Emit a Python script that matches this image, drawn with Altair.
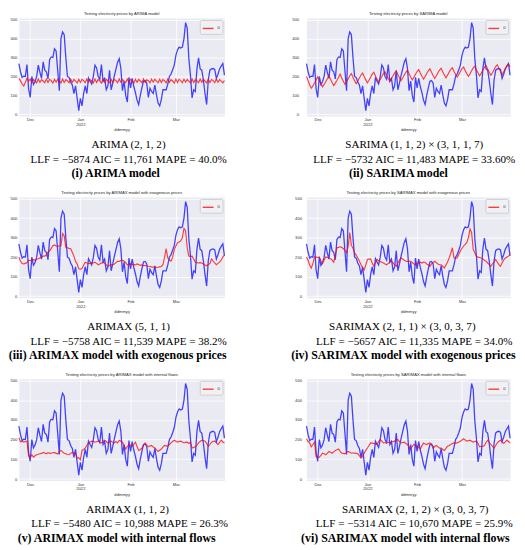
import altair as alt
import pandas as pd

START_DATE = "2021-11-24"
LEGEND_LABEL = "0"

# Actual daily electricity price (blue), Nov 24 2021 - Mar 31 2022
actual = [
    268, 225, 195, 202, 200, 263, 135,
    90, 200, 158, 172, 200, 260, 222,
    190, 277, 233, 225, 187, 290, 303,
    300, 346, 335, 230, 125, 400, 435,
    420, 300, 200, 195, 170, 155, 110,
    150, 85, 20, 85, 45, 110, 150,
    110, 192, 175, 160, 200, 260, 245,
    200, 185, 263, 175, 190, 130, 150,
    233, 130, 165, 205, 240, 275, 294,
    242, 125, 175, 100, 65, 195, 140,
    190, 147, 115, 75, 52, 100, 140,
    175, 178, 165, 90, 138, 121, 110,
    155, 104, 60, 45, 78, 130, 130,
    130, 160, 200, 213, 235, 260, 311,
    340, 355, 350, 355, 400, 484, 455,
    294, 207, 87, 130, 121, 240, 298,
    240, 233, 180, 110, 52, 180, 233,
    240, 242, 237, 190, 212, 240, 255,
    268, 207,
]

pred_arima = [
    190, 178, 160, 150, 168, 190, 176,
    186, 168, 184, 177, 166, 187, 169,
    183, 176, 167, 186, 168, 185, 178,
    165, 185, 170, 184, 176, 166, 187,
    168, 183, 177, 167, 186, 169, 184,
    175, 166, 185, 168, 185, 178, 167,
    186, 170, 183, 176, 166, 187, 168,
    184, 177, 165, 186, 169, 185, 176,
    167, 185, 168, 184, 178, 166, 187,
    170, 183, 175, 167, 186, 168, 185,
    177, 165, 185, 169, 184, 176, 167,
    187, 168, 183, 178, 166, 186, 170,
    185, 175, 167, 185, 168, 184, 177,
    166, 187, 169, 183, 176, 165, 186,
    168, 185, 178, 167, 185, 170, 184,
    175, 166, 187, 168, 183, 177, 167,
    186, 169, 185, 176, 166, 185, 168,
    184, 178, 167, 186, 170, 183, 175,
    166, 178,
]

pred_sarima = [
    200, 178, 155, 138, 150, 165, 182,
    198, 178, 160, 145, 158, 172, 188,
    205, 185, 168, 152, 165, 180, 196,
    212, 192, 175, 158, 172, 188, 204,
    215, 196, 178, 162, 176, 192, 208,
    218, 200, 182, 166, 180, 196, 212,
    222, 204, 186, 170, 184, 200, 215,
    225, 207, 190, 174, 188, 204, 219,
    228, 210, 193, 178, 192, 208, 222,
    232, 214, 197, 182, 196, 212, 226,
    236, 218, 201, 186, 200, 216, 230,
    240, 222, 205, 190, 204, 220, 234,
    243, 225, 208, 193, 207, 223, 238,
    246, 228, 211, 196, 210, 226, 241,
    250, 232, 215, 200, 214, 230, 245,
    254, 236, 218, 203, 217, 233, 248,
    258, 240, 222, 206, 220, 236, 252,
    262, 244, 226, 210, 224, 240, 256,
    266, 250,
]

pred_arimax_exo = [
    200, 180, 167, 165, 168, 172, 184,
    183, 186, 187, 184, 190, 192, 196,
    198, 205, 205, 212, 225, 232, 245,
    258, 262, 257, 255, 258, 258, 321,
    309, 250, 248, 245, 243, 225, 205,
    178, 165, 140, 139, 142, 158, 174,
    170, 168, 167, 172, 170, 174, 168,
    161, 165, 170, 174, 168, 160, 153,
    158, 162, 161, 165, 172, 179, 178,
    182, 184, 180, 172, 161, 163, 165,
    161, 163, 160, 165, 162, 158, 160,
    156, 158, 155, 153, 152, 150, 149,
    150, 147, 148, 150, 152, 161, 200,
    243, 196, 185, 179, 200, 240, 257,
    274, 278, 283, 300, 347, 335, 248,
    205, 203, 205, 190, 174, 172, 170,
    172, 170, 165, 160, 156, 162, 167,
    191, 180, 170, 161, 168, 174, 185,
    200, 210,
]

pred_sarimax_exo = [
    201, 184, 160, 144, 167, 201, 200,
    198, 201, 180, 167, 185, 201, 199,
    196, 192, 185, 174, 210, 248, 250,
    253, 250, 243, 235, 222, 255, 326,
    260, 245, 222, 210, 196, 180, 161,
    145, 135, 160, 188, 190, 191, 170,
    153, 170, 188, 182, 178, 174, 170,
    165, 161, 168, 175, 179, 170, 160,
    153, 170, 185, 196, 190, 184, 179,
    178, 180, 179, 172, 165, 161, 168,
    172, 174, 170, 175, 174, 165, 160,
    153, 165, 172, 179, 172, 165, 161,
    161, 152, 144, 160, 175, 196, 220,
    248, 196, 195, 196, 215, 231, 245,
    257, 265, 274, 300, 344, 326, 240,
    222, 205, 200, 198, 196, 190, 184,
    179, 170, 162, 153, 165, 175, 188,
    175, 162, 153, 170, 185, 196, 200,
    205, 214,
]

pred_arimax_flow = [
    209, 189, 192, 187, 190, 192, 118,
    109, 123, 111, 118, 123, 126, 128,
    130, 135, 132, 128, 134, 130, 131,
    133, 135, 130, 128, 138, 145, 138,
    131, 128, 124, 123, 130, 135, 133,
    131, 106, 108, 97, 145, 150, 157,
    170, 183, 188, 192, 190, 187, 189,
    192, 186, 183, 190, 197, 190, 183,
    188, 192, 186, 183, 190, 183, 197,
    192, 187, 170, 152, 165, 175, 170,
    166, 175, 187, 165, 145, 150, 157,
    170, 183, 172, 163, 168, 170, 162,
    157, 148, 140, 146, 152, 162, 170,
    168, 166, 175, 183, 190, 197, 192,
    187, 190, 192, 188, 183, 186, 187,
    180, 187, 157, 160, 163, 172, 183,
    190, 197, 195, 192, 180, 166, 175,
    187, 190, 192, 185, 175, 186, 197,
    188, 183,
]

pred_sarimax_flow = [
    204, 190, 183, 163, 175, 187, 114,
    110, 111, 120, 131, 128, 123, 130,
    140, 136, 131, 138, 145, 148, 152,
    140, 131, 130, 128, 134, 140, 136,
    131, 133, 131, 130, 128, 118, 106,
    115, 131, 145, 157, 170, 183, 182,
    180, 178, 175, 190, 201, 192, 183,
    185, 183, 186, 185, 187, 190, 192,
    198, 201, 190, 183, 185, 187, 180,
    175, 162, 152, 165, 175, 170, 166,
    160, 152, 168, 183, 178, 175, 180,
    183, 172, 157, 165, 170, 163, 157,
    157, 150, 145, 155, 166, 170, 175,
    180, 183, 182, 183, 188, 192, 198,
    204, 198, 192, 195, 197, 192, 187,
    190, 192, 180, 163, 166, 165, 170,
    185, 197, 185, 175, 165, 157, 170,
    183, 190, 197, 188, 180, 188, 197,
    190, 183,
]

panel_titles = [
    "Testing electricity prices by ARIMA model",
    "Testing electricity prices by SARIMA model",
    "Testing electricity prices by ARIMAX model with exogenous prices",
    "Testing electricity prices by SARIMAX model with exogenous prices",
    "Testing electricity prices by ARIMAX model with internal flows",
    "Testing electricity prices by SARIMAX model with internal flows",
]
model_lines = [
    "ARIMA (2, 1, 2)",
    "SARIMA (1, 1, 2) × (3, 1, 1, 7)",
    "ARIMAX (5, 1, 1)",
    "SARIMAX (2, 1, 1) × (3, 0, 3, 7)",
    "ARIMAX (1, 1, 2)",
    "SARIMAX (2, 1, 2) × (3, 0, 3, 7)",
]
stat_lines = [
    "LLF = −5874 AIC = 11,761 MAPE = 40.0%",
    "LLF = −5732 AIC = 11,483 MAPE = 33.60%",
    "LLF = −5758 AIC = 11,539 MAPE = 38.2%",
    "LLF = −5657 AIC = 11,335 MAPE = 34.0%",
    "LLF = −5480 AIC = 10,988 MAPE = 26.3%",
    "LLF = −5314 AIC = 10,670 MAPE = 25.9%",
]
label_lines = [
    "(i) ARIMA model",
    "(ii) SARIMA model",
    "(iii) ARIMAX model with exogenous prices",
    "(iv) SARIMAX model with exogenous prices",
    "(v) ARIMAX model with internal flows",
    "(vi) SARIMAX model with internal flows",
]
predictions = [pred_arima, pred_sarima, pred_arimax_exo,
               pred_sarimax_exo, pred_arimax_flow, pred_sarimax_flow]
y_ticks = [0, 100, 200, 300, 400, 500]

# layout (pixels)
PANEL_W = [208, 206]
ROW_H = [99, 102, 103]
CAP_X = [
    [111, 111, 98],
    [109, 109, 93],
    [111, 111, 100],
    [97, 109, 98],
    [110, 112, 99],
    [110, 109, 100],
]
CAP_DY = [29.5, 44.3, 58]
Y_LABEL_PAD = [2, 8, 2, 5, 2, 5]

SANS = "Liberation Sans"
SERIF = "Liberation Serif"
SMALL = 4.2

DATES = [d.strftime("%Y-%m-%d") for d in pd.date_range(START_DATE, periods=len(actual), freq="D")]


def dt(y, m, d):
    return alt.DateTime(year=y, month=m, date=d, utc=True)


X_DOMAIN = [dt(2021, 11, 24), dt(2022, 3, 31)]
MONTH_TICKS = [dt(2021, 12, 1), dt(2022, 1, 1), dt(2022, 2, 1), dt(2022, 3, 1)]
Y_SCALE = alt.Scale(domain=[-8, 508], nice=False, zero=False)


def make_panel(i):
    w = PANEL_W[i % 2]
    h = ROW_H[i // 2]
    df = pd.DataFrame({
        "date": DATES,
        "actual": actual,
        "pred": predictions[i],
        "series": LEGEND_LABEL,
    })
    x_enc = alt.X(
        "date:T",
        scale=alt.Scale(type="utc", domain=X_DOMAIN, nice=False),
        axis=alt.Axis(
            values=MONTH_TICKS,
            title="ddmmyy",
            labelExpr="utcmonth(datum.value) == 0 ? ['Jan', '2022'] : utcFormat(datum.value, '%b')",
            labelLineHeight=5,
            labelPadding=1.5,
            titlePadding=1.5,
        ),
    )
    y_axis = alt.Axis(values=y_ticks, title=None, labelPadding=Y_LABEL_PAD[i])
    base = alt.Chart(df).encode(x=x_enc)
    blue = base.mark_line(color="#0000FF", opacity=0.72, strokeWidth=1.3).encode(
        y=alt.Y("actual:Q", scale=Y_SCALE, axis=y_axis)
    )
    red = base.mark_line(opacity=0.75, strokeWidth=1.15).encode(
        y=alt.Y("pred:Q", scale=Y_SCALE, axis=y_axis),
        color=alt.Color(
            "series:N",
            scale=alt.Scale(domain=[LEGEND_LABEL], range=["#FF0000"]),
            legend=alt.Legend(
                title=None, orient="top-right", offset=1.8,
                symbolType="stroke", symbolSize=120, symbolStrokeWidth=1.4,
                labelFontSize=SMALL, labelFont=SANS, labelColor="#333333",
                padding=2, fillColor="#F0F0F5", strokeColor="#CFCFCF",
                cornerRadius=1.2, labelOffset=3,
            ),
        ),
    )
    texts = [model_lines[i], stat_lines[i], label_lines[i]]
    caps = []
    for k, t in enumerate(texts):
        caps.append(
            alt.Chart(pd.DataFrame({"t": [t]})).mark_text(
                font=SERIF,
                fontSize=12 if k == 2 else 11.2,
                fontWeight="bold" if k == 2 else "normal",
                color="black", align="center", baseline="middle",
            ).encode(
                text="t:N",
                x=alt.value(CAP_X[i][k]),
                y=alt.value(h + CAP_DY[k]),
            )
        )
    return alt.layer(blue, red, *caps).properties(
        width=w, height=h,
        title=alt.TitleParams(panel_titles[i], fontSize=SMALL, font=SANS,
                              fontWeight="normal", color="#262626", offset=1.5),
    )


panels = [make_panel(i) for i in range(6)]

chart = alt.concat(
    *panels, columns=2, spacing={"row": 82, "column": 83}, bounds="flush", padding=0
).resolve_legend(
    color="independent"
).resolve_scale(
    color="independent"
).configure_view(
    fill="#EAEAF2", stroke="transparent"
).configure_axis(
    grid=True, gridColor="white", gridWidth=0.8, gridOpacity=1,
    domain=False, ticks=False,
    labelFont=SANS, labelFontSize=SMALL, labelColor="#333333",
    titleFont=SANS, titleFontSize=SMALL, titleFontWeight="normal", titleColor="#333333",
)

chart.save("out.html", embed_options={"renderer": "svg", "actions": False})
